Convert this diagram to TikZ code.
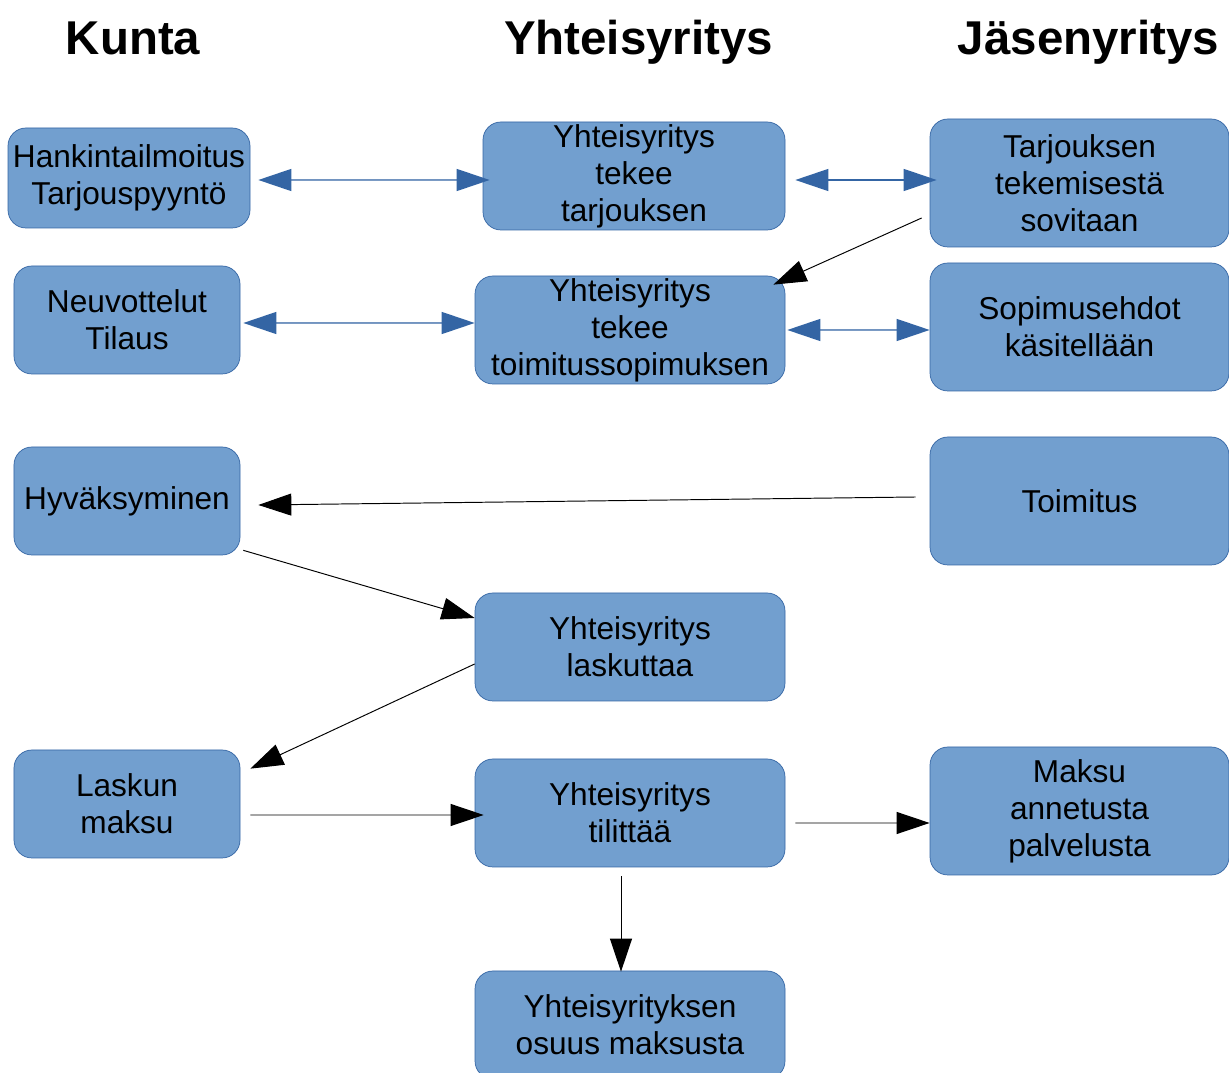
\documentclass[tikz,border=0pt]{standalone}
\usepackage{fontspec}
\setmainfont{Liberation Sans}
\usetikzlibrary{arrows.meta}

\definecolor{boxfill}{HTML}{729FCF}
\definecolor{boxline}{HTML}{3465A4}

\begin{document}
\begin{tikzpicture}[
  font=\fontsize{18}{21}\selectfont,
  box/.style={draw=boxline, fill=boxfill, rounded corners=0.36cm, minimum width=6.2cm, minimum height=2.16cm, inner sep=0pt, align=center},
  tallbox/.style={box, minimum width=5.98cm, minimum height=2.56cm},
  head/.style={font=\fontsize{27}{32}\selectfont\bfseries, anchor=base},
  arrow/.style={-{Triangle[length=0.66cm,width=0.44cm]}, line width=0.55pt},
  biarrow/.style={{Triangle[length=0.66cm,width=0.44cm]}-{Triangle[length=0.66cm,width=0.44cm]}, draw=boxline, fill=boxline, line width=0.8pt},
]
\useasboundingbox (0,0) rectangle (24.58,-21.46);

% Column headings
\node[head] (kunta) at (2.66,-1.1) {Kunta};
\node[head] (yhteis) at (12.77,-1.1) {Yhteisyritys};
\node[head] (jasen) at (21.77,-1.1) {Jäsenyritys};

% Kunta
\node[box, minimum width=4.84cm, minimum height=2cm] (hank) at (2.58,-3.56) {Hankintailmoitus\\Tarjouspyyntö};
\node[box, minimum width=4.52cm] (neuv) at (2.54,-6.40) {Neuvottelut\\Tilaus};
\node[box, minimum width=4.52cm] (hyva) at (2.54,-10.02) {Hyväksyminen};
\node[box, minimum width=4.52cm] (lasku) at (2.54,-16.08) {Laskun\\maksu};

% Yhteisyritys
\node[box, minimum width=6.04cm] (tarjous) at (12.68,-3.52) {Yhteisyritys\\tekee\\tarjouksen};
\node[box] (sopimus) at (12.60,-6.60) {Yhteisyritys\\tekee\\toimitussopimuksen};
\node[box] (laskuttaa) at (12.60,-12.94) {Yhteisyritys\\laskuttaa};
\node[box] (tilittaa) at (12.60,-16.26) {Yhteisyritys\\tilittää};
\node[box] (osuus) at (12.60,-20.50) {Yhteisyrityksen\\osuus maksusta};

% Jasenyritys
\node[tallbox] (sovitaan) at (21.59,-3.66) {Tarjouksen\\tekemisestä\\sovitaan};
\node[tallbox] (ehdot) at (21.59,-6.54) {Sopimusehdot\\käsitellään};
\node[tallbox] (toimitus) at (21.59,-10.02) {Toimitus};
\node[tallbox] (maksu) at (21.59,-16.22) {Maksu\\annetusta\\palvelusta};

% Two-way arrows
\draw[biarrow] ([xshift=0.16cm,yshift=-0.04cm]hank.east) -- ([xshift=0.14cm,yshift=-0.08cm]tarjous.west);
\draw[biarrow] ([xshift=0.2cm,yshift=-0.08cm]tarjous.east) -- ([xshift=0.14cm,yshift=0.06cm]sovitaan.west);
\draw[biarrow] ([xshift=0.06cm,yshift=-0.06cm]neuv.east) -- ([yshift=0.14cm]sopimus.west);
\draw[biarrow] ([xshift=0.04cm]sopimus.east) -- ([yshift=-0.06cm]ehdot.west);

% One-way arrows
\draw[arrow] ([xshift=-0.16cm,yshift=-0.7cm]sovitaan.west) -- ([xshift=-0.24cm,yshift=-0.18cm]sopimus.north east);
\draw[arrow] ([xshift=-0.28cm,yshift=0.08cm]toimitus.west) -- ([xshift=0.36cm,yshift=-0.08cm]hyva.east);
\draw[arrow] ([xshift=0.06cm,yshift=0.1cm]hyva.south east) -- ([yshift=0.58cm]laskuttaa.west);
\draw[arrow] ([yshift=-0.34cm]laskuttaa.west) -- ([xshift=0.2cm,yshift=-0.38cm]lasku.north east);
\draw[arrow] ([xshift=0.2cm,yshift=-0.22cm]lasku.east) -- ([xshift=0.18cm,yshift=-0.04cm]tilittaa.west);
\draw[arrow] ([xshift=0.2cm,yshift=-0.2cm]tilittaa.east) -- ([yshift=-0.24cm]maksu.west);
\draw[arrow] ([xshift=-0.18cm,yshift=-0.18cm]tilittaa.south) -- ([xshift=-0.18cm,yshift=-0.02cm]osuus.north);

\end{tikzpicture}
\end{document}
